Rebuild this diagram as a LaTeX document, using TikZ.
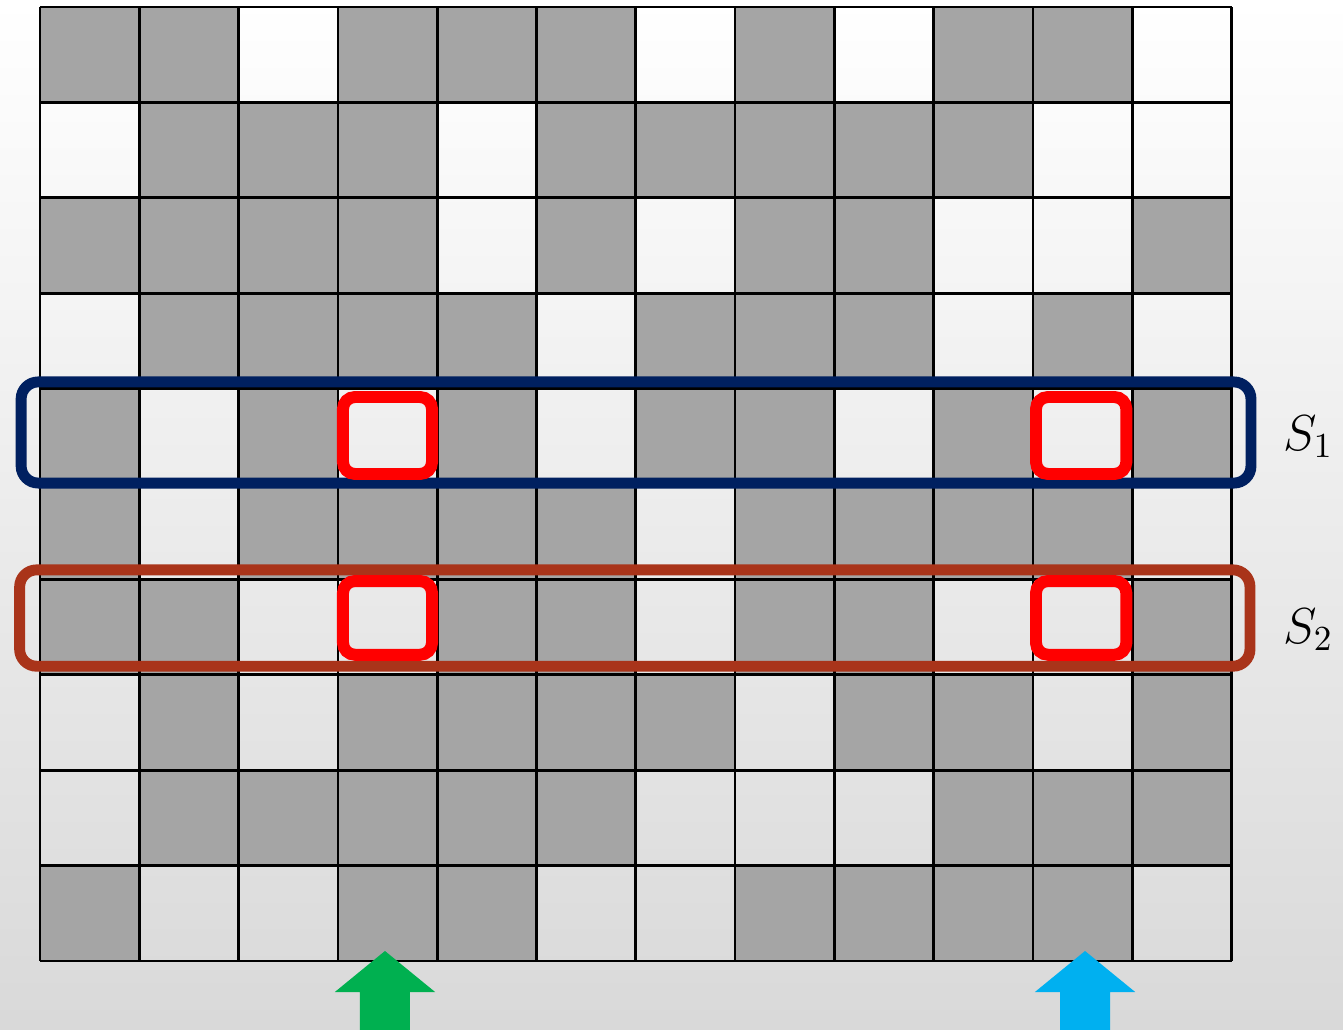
\documentclass[tikz,border=0pt]{standalone}
\usepackage{xcolor}
\usepackage{tikz}
\usetikzlibrary{positioning, calc}

\definecolor{cellgray}{HTML}{A5A5A5}
\definecolor{navyline}{HTML}{002060}
\definecolor{rustline}{HTML}{A9341A}
\definecolor{pickred}{HTML}{FF0000}
\definecolor{arrowgreen}{HTML}{00B050}
\definecolor{arrowblue}{HTML}{00B0F0}

\begin{document}
\begin{tikzpicture}[x=0.993cm, y=-0.954cm,
					gridline/.style={draw=black, line width=0.75pt},
					rowbox/.style={line width=3.1pt, rounded corners=0.17cm},
					pickbox/.style={draw=pickred, line width=3.4pt, rounded corners=0.12cm},
					lbl/.style={inner sep=0pt, font=\fontsize{13.75}{16}\selectfont}
				]
					
					% Background
					\useasboundingbox (-0.4028,-0.0734) rectangle (13.122,10.723);
					\shade[top color=white, middle color=black!3, bottom color=black!15] (-0.4028,-0.0734) rectangle (13.122,10.723);
					
					% Cells
					\foreach \row [count=\r from 0] in {
						{1,1,0,1,1,1,0,1,0,1,1,0},
						{0,1,1,1,0,1,1,1,1,1,0,0},
						{1,1,1,1,0,1,0,1,1,0,0,1},
						{0,1,1,1,1,0,1,1,1,0,1,0},
						{1,0,1,0,1,0,1,1,0,1,0,1},
						{1,0,1,1,1,1,0,1,1,1,1,0},
						{1,1,0,0,1,1,0,1,1,0,0,1},
						{0,1,0,1,1,1,1,0,1,1,0,1},
						{0,1,1,1,1,1,0,0,0,1,1,1},
						{1,0,0,1,1,0,0,1,1,1,1,0}}{
						\foreach \v [count=\c from 0] in \row {
							\ifnum\v=1 \fill[cellgray] (\c,\r) rectangle ++(1,1); \fi
						}
					}
					\foreach \c in {0,...,12} \draw[gridline] (\c,0) -- (\c,10);
					\foreach \r in {0,...,10} \draw[gridline] (0,\r) -- (12,\r);
					
					% Row boxes
					\draw[rowbox, draw=navyline] (-0.19,3.93) rectangle (12.195,4.99);
					\draw[rowbox, draw=rustline] (-0.205,5.90) rectangle (12.185,6.91);
					
					% Picked cells
					\draw[pickbox] (3.051,4.088) rectangle (3.948,4.895);
					\draw[pickbox] (10.03,4.088) rectangle (10.94,4.895);
					\draw[pickbox] (3.051,6.017) rectangle (3.948,6.79);
					\draw[pickbox] (10.03,6.017) rectangle (10.94,6.79);
					
					% Arrows
					\foreach \t/\col in {3.474/arrowgreen, 10.524/arrowblue}
						\fill[\col] (\t,9.895) -- (\t+0.505,10.325) -- (\t+0.252,10.325) -- (\t+0.252,10.723)
							-- (\t-0.252,10.723) -- (\t-0.252,10.325) -- (\t-0.505,10.325) -- cycle;
					
					% Labels
					\node[lbl, anchor=base east] (s1) at (13.03,4.644) {$S_1$};
					\node[lbl, anchor=base east] (s2) at (13.03,6.667) {$S_2$};
				\end{tikzpicture}
\end{document}
